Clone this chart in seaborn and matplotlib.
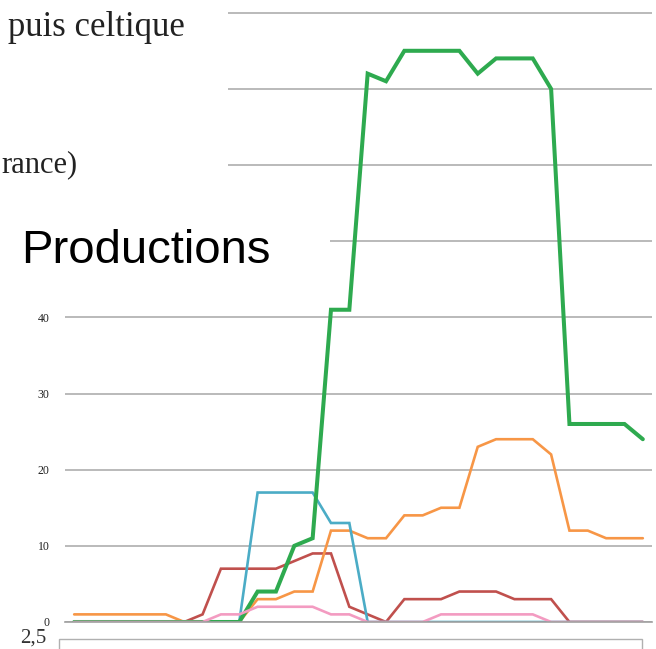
import numpy as np
import pandas as pd
import matplotlib.pyplot as plt
import seaborn as sns
from matplotlib.patches import Rectangle

# values, one point per period (32 periods)
green = [0, 0, 0, 0, 0, 0, 0, 0, 0, 0, 4, 4, 10, 11, 41, 41, 72, 71, 75, 75, 75, 75, 72, 74, 74, 74, 70, 26, 26, 26, 26, 24]
orange = [1, 1, 1, 1, 1, 1, 0, 0, 0, 0, 3, 3, 4, 4, 12, 12, 11, 11, 14, 14, 15, 15, 23, 24, 24, 24, 22, 12, 12, 11, 11, 11]
blue = [0, 0, 0, 0, 0, 0, 0, 0, 0, 0, 17, 17, 17, 17, 13, 13, 0, 0, 0, 0, 0, 0, 0, 0, 0, 0, 0, 0, 0, 0, 0, 0]
red = [0, 0, 0, 0, 0, 0, 0, 1, 7, 7, 7, 7, 8, 9, 9, 2, 1, 0, 3, 3, 3, 4, 4, 4, 3, 3, 3, 0, 0, 0, 0, 0]
pink = [0, 0, 0, 0, 0, 0, 0, 0, 1, 1, 2, 2, 2, 2, 1, 1, 0, 0, 0, 0, 1, 1, 1, 1, 1, 1, 0, 0, 0, 0, 0, 0]

# group boundaries on the category axis (labels are hidden below the chart)
group_sizes = [3, 4, 3, 4, 2, 2, 4, 5, 5]
ytick_values = [0, 10, 20, 30, 40, 50, 60, 70, 80]
ytick_labels = ['0', '10', '20', '30', '40', '', '', '', '']

periods = np.arange(len(green))
df = pd.DataFrame({'period': periods, 'green': green, 'orange': orange,
                   'blue': blue, 'red': red, 'pink': pink})

sns.set_style('white')
plt.rcParams['font.family'] = ['Liberation Serif', 'DejaVu Serif']

W, H = 656, 649
fig = plt.figure(figsize=(W / 100, H / 100), dpi=100)
ax = fig.add_axes([65 / W, 27 / H, 587 / W, 622 / H])

styles = [('red', '#c0504d', 1.9), ('orange', '#f79646', 1.9), ('blue', '#4bacc6', 1.9),
          ('green', '#2eaa4f', 2.9), ('pink', '#f39bc1', 1.9)]
for name, col, lw in styles:
    sns.lineplot(data=df, x='period', y=name, color=col, linewidth=lw, ax=ax,
                 solid_joinstyle='miter')

ax.set_xlim(-0.5, len(green) - 0.5)
ax.set_ylim(0, 622 / 7.616)
bounds = np.concatenate([[0], np.cumsum(group_sizes)]) - 0.5
ax.set_xticks(bounds)
ax.set_xticklabels([])
ax.set_yticks(ytick_values)
ax.set_yticklabels(ytick_labels, fontsize=8.5, color='#222222')
ax.tick_params(axis='y', length=0, pad=11)
ax.tick_params(axis='x', direction='out', length=6, width=1, color='#a0a0a0')
ax.yaxis.grid(True, color='#b4b4b4', linewidth=1.3)
ax.set_axisbelow(True)
for s in ['left', 'top', 'right']:
    ax.spines[s].set_visible(False)
ax.spines['bottom'].set_color('#a0a0a0')
ax.spines['bottom'].set_linewidth(1.2)
ax.set_xlabel('')
ax.set_ylabel('')

# page elements that sit over the chart
fig.patches.append(Rectangle((0, 1 - 200 / H), 228 / W, 200 / H, transform=fig.transFigure,
                             facecolor='white', edgecolor='none', zorder=5))
fig.patches.append(Rectangle((0, 1 - 285 / H), 330 / W, 86 / H, transform=fig.transFigure,
                             facecolor='white', edgecolor='none', zorder=5))
fig.patches.append(Rectangle((59 / W, -0.05), 583 / W, 0.05 + 10 / H, transform=fig.transFigure,
                             facecolor='white', edgecolor='#b0b0b0', linewidth=1, zorder=5))

fig.text(8 / W, 1 - 36 / H, 'puis celtique', fontsize=25, color='#222222',
         ha='left', va='baseline', zorder=6)
fig.text(1 / W, 1 - 172 / H, 'rance)', fontsize=22, color='#222222',
         ha='left', va='baseline', zorder=6)
fig.text(21 / W, 1 - 263 / H, 'Productions', fontsize=34, color='black',
         family='Liberation Sans', ha='left', va='baseline', zorder=6)
fig.text(20 / W, 1 - 643 / H, '2,5', fontsize=15, color='#333333',
         ha='left', va='baseline', zorder=6)

fig.savefig('out.png', dpi=100)
